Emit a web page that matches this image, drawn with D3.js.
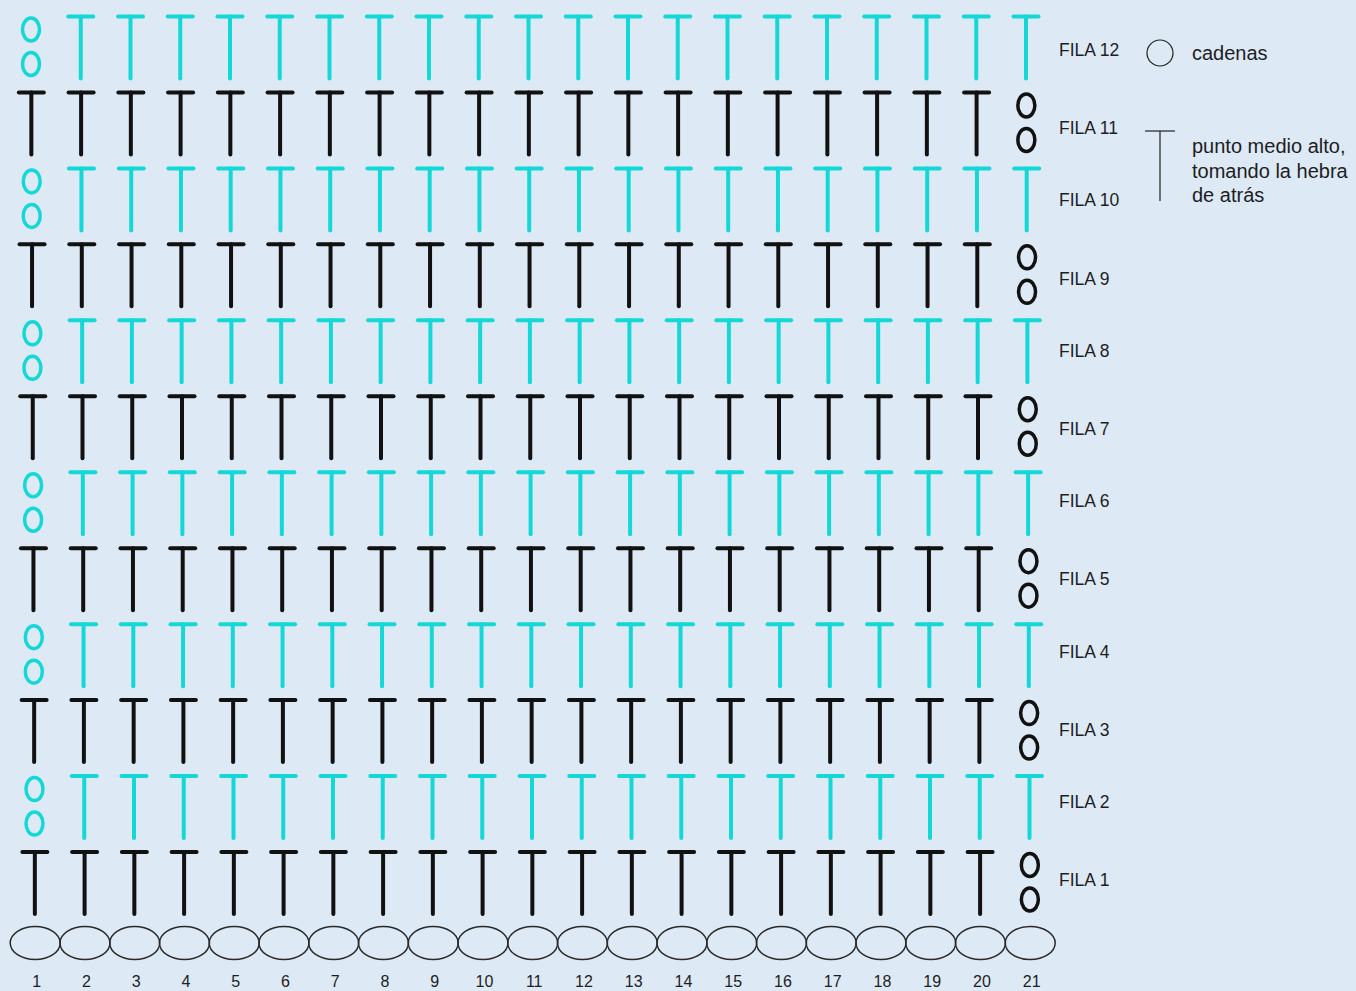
<!DOCTYPE html>
<html>
<head>
<meta charset="utf-8">
<style>
  body { margin: 0; background: #dde9f5; }
  #grafico { font-family: 'Liberation Sans', Arial, sans-serif; }
  #grafico text { fill: #1e1e1e; }
</style>
</head>
<body>
<div id="grafico"></div>
<script src="https://d3js.org/d3.v7.min.js"></script>
<script>
  // columnas (puntos de la cadena base)
  var columnas = ["1", "2", "3", "4", "5", "6", "7", "8", "9", "10", "11",
    "12", "13", "14", "15", "16", "17", "18", "19", "20", "21"];
  // filas, de abajo hacia arriba
  var filas = [1, 2, 3, 4, 5, 6, 7, 8, 9, 10, 11, 12];
  var etiquetas = ["FILA 1", "FILA 2", "FILA 3", "FILA 4", "FILA 5", "FILA 6",
    "FILA 7", "FILA 8", "FILA 9", "FILA 10", "FILA 11", "FILA 12"];
  // C = 2 cadenas de subida, T = punto medio alto
  var patronImpar = "TTTTTTTTTTTTTTTTTTTTC";
  var patronPar = "CTTTTTTTTTTTTTTTTTTTT";
  var colorFila = ["#111111", "#14d8d8"];
  var leyenda = ["cadenas", "punto medio alto,", "tomando la hebra", "de atrás"];

  var width = 1356,
    height = 991;
  var svg = d3.select("#grafico").append("svg")
    .attr("width", width).attr("height", height);

  var x = d3.scaleLinear().domain([1, 21]).range([31, 1026]);
  // centro vertical de cada fila
  var y = d3.scaleLinear().domain([1, 12]).range([883, 47.5]);
  var yEtiqueta = d3.scaleLinear().domain([1, 12]).range([877, 50]);
  function shift(f) { return (12 - f) * 0.35; }

  var altoT = 62, anchoT = 25;

  var puntos = [];
  filas.forEach(function(f) {
    var patron = f % 2 ? patronImpar : patronPar;
    patron.split("").forEach(function(t, i) {
      puntos.push({ fila: f, col: i + 1, tipo: t, color: colorFila[f % 2 ? 0 : 1] });
    });
  });

  var g = svg.selectAll("g.punto")
    .data(puntos)
    .enter().append("g")
    .attr("class", "punto")
    .attr("transform", function(d) {
      return "translate(" + (x(d.col) + shift(d.fila)) + "," + (y(d.fila) - altoT / 2) + ")";
    });

  // puntos medio alto
  var tes = g.filter(function(d) { return d.tipo == "T"; });
  tes.append("line")
    .attr("x1", -anchoT / 2).attr("x2", anchoT / 2)
    .attr("y1", 0).attr("y2", 0);
  tes.append("line")
    .attr("x1", 0).attr("x2", 0)
    .attr("y1", 0).attr("y2", altoT);
  tes.selectAll("line")
    .attr("stroke", function() { return d3.select(this.parentNode).datum().color; })
    .attr("stroke-width", 4)
    .attr("stroke-linecap", "round");

  // cadenas de subida
  var ces = g.filter(function(d) { return d.tipo == "C"; });
  [13, 47.5].forEach(function(cy) {
    ces.append("ellipse")
      .attr("cx", 0).attr("cy", cy)
      .attr("rx", 8.5).attr("ry", 11.5)
      .attr("fill", "none")
      .attr("stroke", function(d) { return d.color; })
      .attr("stroke-width", 3.5);
  });

  // cadena base
  svg.selectAll("ellipse.base")
    .data(columnas)
    .enter().append("ellipse")
    .attr("class", "base")
    .attr("cx", function(d, i) { return x(i + 1) + shift(0); })
    .attr("cy", 943)
    .attr("rx", 25)
    .attr("ry", 16.5)
    .attr("fill", "none")
    .attr("stroke", "#2a2a2a")
    .attr("stroke-width", 1.5);

  svg.selectAll("text.col")
    .data(columnas)
    .enter().append("text")
    .attr("class", "col")
    .attr("x", function(d, i) { return x(i + 1) + shift(0) + 1.5; })
    .attr("y", 987)
    .attr("text-anchor", "middle")
    .style("font-size", "16px")
    .text(function(d) { return d; });

  svg.selectAll("text.fila")
    .data(filas)
    .enter().append("text")
    .attr("class", "fila")
    .attr("x", 1059)
    .attr("y", function(d) { return yEtiqueta(d) + (d % 2 ? 3 : 0); })
    .attr("dy", "0.35em")
    .style("font-size", "17.5px")
    .text(function(d, i) { return etiquetas[i]; });

  // leyenda
  var ley = svg.append("g");
  ley.append("circle")
    .attr("cx", 1160).attr("cy", 53).attr("r", 13)
    .attr("fill", "none").attr("stroke", "#222").attr("stroke-width", 1.2);
  ley.append("line")
    .attr("x1", 1145).attr("x2", 1175).attr("y1", 131).attr("y2", 131)
    .attr("stroke", "#222").attr("stroke-width", 1.2);
  ley.append("line")
    .attr("x1", 1160).attr("x2", 1160).attr("y1", 131).attr("y2", 201)
    .attr("stroke", "#222").attr("stroke-width", 1.2);
  ley.selectAll("text")
    .data(leyenda)
    .enter().append("text")
    .attr("x", 1192)
    .attr("y", function(d, i) { return i == 0 ? 53 : 146 + (i - 1) * 24.5; })
    .attr("dy", "0.35em")
    .style("font-size", "20px")
    .text(function(d) { return d; });
</script>
</body>
</html>
